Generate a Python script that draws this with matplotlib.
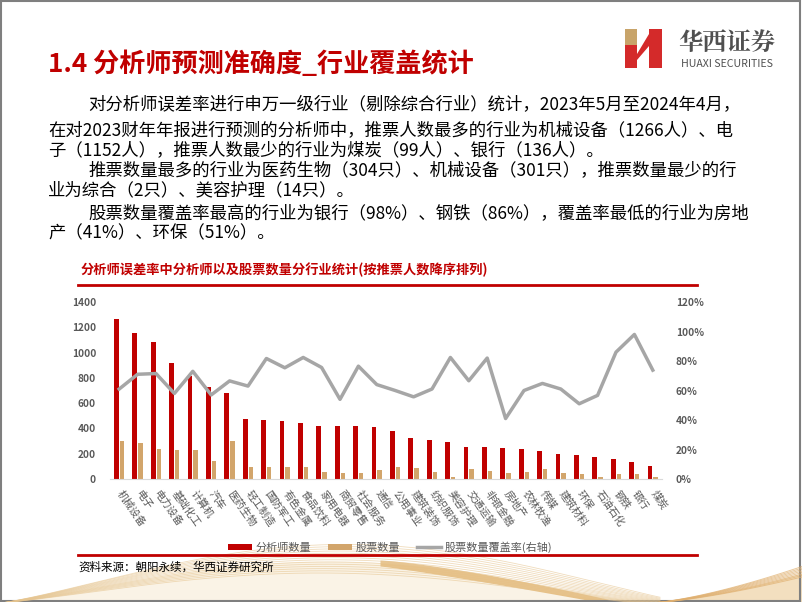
import numpy as np
import matplotlib
matplotlib.use("Agg")
import matplotlib.pyplot as plt
from matplotlib.patches import Polygon, Rectangle

plt.rcParams['font.family'] = ['Noto Sans CJK SC', 'DejaVu Sans']

# data
industries = ["机械设备", "电子", "电力设备", "基础化工", "计算机", "汽车", "医药生物",
              "轻工制造", "国防军工", "有色金属", "食品饮料", "家用电器", "商贸零售",
              "社会服务", "通信", "公用事业", "建筑装饰", "纺织服饰", "美容护理",
              "交通运输", "非银金融", "房地产", "农林牧渔", "传媒", "建筑材料", "环保",
              "石油石化", "钢铁", "银行", "煤炭"]
analysts = [1266, 1152, 1086, 920, 812, 728, 680, 478, 466, 455, 445, 423, 422, 416,
            412, 379, 324, 310, 289, 252, 252, 245, 239, 221, 200, 189, 174, 155, 136, 99]
stocks = [301, 287, 234, 226, 226, 142, 304, 97, 97, 97, 92, 58, 47, 47, 68, 97, 84,
          58, 14, 76, 63, 45, 53, 79, 45, 39, 16, 39, 39, 18]
coverage = [0.61, 0.71, 0.715, 0.58, 0.73, 0.57, 0.665, 0.63, 0.817, 0.754, 0.824,
            0.756, 0.54, 0.765, 0.64, 0.60, 0.557, 0.61, 0.824, 0.666, 0.82, 0.41,
            0.60, 0.648, 0.61, 0.51, 0.567, 0.86, 0.98, 0.738]
left_ticks = [0, 200, 400, 600, 800, 1000, 1200, 1400]
right_ticks = [0, 0.2, 0.4, 0.6, 0.8, 1.0, 1.2]

body_lines = [
    (88, 105, "对分析师误差率进行申万一级行业（剔除综合行业）统计，2023年5月至2024年4月，"),
    (48, 130, "在对2023财年年报进行预测的分析师中，推票人数最多的行业为机械设备（1266人）、电"),
    (48, 150, "子（1152人），推票人数最少的行业为煤炭（99人）、银行（136人）。"),
    (88, 170, "推票数量最多的行业为医药生物（304只）、机械设备（301只），推票数量最少的行"),
    (48, 190, "业为综合（2只）、美容护理（14只）。"),
    (88, 213, "股票数量覆盖率最高的行业为银行（98%）、钢铁（86%），覆盖率最低的行业为房地"),
    (48, 233, "产（41%）、环保（51%）。"),
]

RED = "#C00000"
TAN = "#D2A56B"
GRAY = "#A6A6A6"
TXT = "#595959"

W, H = 802, 602
fig = plt.figure(figsize=(W / 100, H / 100), dpi=100)

# background layer in pixel coordinates
bg = fig.add_axes([0, 0, 1, 1])
bg.set_xlim(0, W)
bg.set_ylim(H, 0)
bg.axis("off")

# bottom golden waves
xs = np.linspace(0, 660, 200)
for k in range(14):
    amp = 30 + k * 2.2
    ys = 603 - amp * np.sin(np.pi * xs / (640 + k * 4)) ** 1.2
    bg.plot(xs, ys, color="#E6C590", lw=0.6, alpha=0.6)
bg.fill_between(xs, 603 - 42 * np.sin(np.pi * xs / 650) ** 1.2, 603,
                color="#F6E6C8", alpha=0.45, lw=0)
xd = np.linspace(380, 620, 100)
bg.fill_between(xd, 560 + 42 * ((xd - 380) / 240) ** 1.3,
                566 + 40 * ((xd - 380) / 240) ** 1.1, color="#D9A04A", alpha=0.6, lw=0)
xr = np.linspace(650, W, 100)
for k in range(8):
    bg.plot(xr, 603 - (26 + 1.5 * k) * ((xr - 650) / 152) ** 1.4, color="#E0B070",
            lw=0.7, alpha=0.7)
bg.fill_between(xr, 603 - 30 * ((xr - 650) / 152) ** 1.4, 603, color="#ECCB95",
                alpha=0.6, lw=0)

# slide border
bg.add_patch(Rectangle((0.5, 0.5), W - 2.5, H - 1.5, fill=False, ec="#7F7F7F", lw=1.5))

# logo
bg.add_patch(Polygon([(625, 29), (637, 29), (637, 45), (625, 45)], color="#C8A46A", lw=0))
bg.add_patch(Polygon([(625, 45), (637, 45), (637, 68), (625, 68)], color="#D42A2A", lw=0))
bg.add_patch(Polygon([(649, 29), (662, 29), (662, 68), (649, 68)], color="#D42A2A", lw=0))
bg.add_patch(Polygon([(637, 54), (649, 34), (649, 46), (637, 60)], color="#D42A2A", lw=0))
bg.text(727, 43, "华西证券", fontsize=17.5, fontweight="bold", color="#505050",
        ha="center", va="center", family=["Noto Serif CJK SC", "Noto Sans CJK SC"])
bg.text(727, 64, "HUAXI SECURITIES", fontsize=7.6, color="#505050", ha="center",
        va="center")

# title and body text
bg.text(48, 64, "1.4 分析师预测准确度_行业覆盖统计", fontsize=18.8, fontweight="bold",
        color=RED, ha="left", va="center")
for x, y, s in body_lines:
    bg.text(x, y, s, fontsize=12.5, color="black", ha="left", va="center")

bg.text(81, 270, "分析师误差率中分析师以及股票数量分行业统计(按推票人数降序排列)",
        fontsize=9.5, fontweight="bold", color=RED, ha="left", va="center")
bg.plot([78, 697], [285, 285], color=RED, lw=2)
bg.plot([78, 697], [555, 555], color=RED, lw=2)
bg.text(78, 567, "资料来源：朝阳永续，华西证券研究所", fontsize=8.3, color="black",
        ha="left", va="center")

# chart
ax = fig.add_axes([110 / W, 1 - 479 / H, 552 / W, 177 / H])
x = np.arange(len(industries))
b1 = ax.bar(x - 0.15, analysts, width=0.26, color=RED, label="分析师数量")
b2 = ax.bar(x + 0.15, stocks, width=0.24, color=TAN, label="股票数量")
ax.set_xlim(-0.5, len(industries) - 0.5)
ax.set_ylim(0, 1400)
ax.set_yticks(left_ticks)
ax.set_yticklabels([str(v) for v in left_ticks], fontsize=7.3, color=TXT,
                   fontweight="bold")
ax.set_xticks(x)
ax.set_xticklabels(industries, rotation=-55, ha="left", va="center",
                   rotation_mode="anchor", fontsize=7.5, color=TXT)
ax.tick_params(axis="both", length=0)
ax.tick_params(axis="x", pad=9)
ax.tick_params(axis="y", pad=10)
for s in ["top", "left", "right"]:
    ax.spines[s].set_visible(False)
ax.spines["bottom"].set_color("#D9D9D9")
ax.patch.set_alpha(0)

ax2 = ax.twinx()
l1, = ax2.plot(x, coverage, color=GRAY, lw=2.5, label="股票数量覆盖率(右轴)")
ax2.set_ylim(0, 1.2)
ax2.set_yticks(right_ticks)
ax2.set_yticklabels([f"{int(round(v * 100))}%" for v in right_ticks], fontsize=7.3,
                    color=TXT, fontweight="bold")
ax2.tick_params(axis="y", length=0, pad=10)
for s in ["top", "left", "right", "bottom"]:
    ax2.spines[s].set_visible(False)

fig.legend(handles=[b1, b2, l1], loc="center", ncol=3, frameon=False,
           bbox_to_anchor=(390 / W, 1 - 547 / H), fontsize=8, labelcolor=TXT,
           handlelength=2.2, handleheight=0.5, columnspacing=1.5, handletextpad=0.3)

fig.savefig("out.png", dpi=100)
